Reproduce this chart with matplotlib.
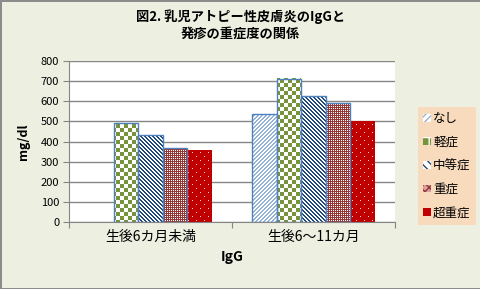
import numpy as np
import matplotlib
matplotlib.use('Agg')
import matplotlib.pyplot as plt
from matplotlib.patches import Patch

plt.rcParams['font.family'] = ['Noto Sans CJK JP', 'DejaVu Sans']

# data
categories = ['生後6カ月未満', '生後6〜11カ月']
severity = ['なし', '軽症', '中等症', '重症', '超重症']
nashi = [0, 535]
keisho = [490, 710]
chuto = [430, 625]
jusho = [370, 590]
chojusho = [360, 500]
series = [nashi, keisho, chuto, jusho, chojusho]

colors = ['#95B3D7', '#77933C', '#1F497D', '#953735', '#C00000']
kinds = ['up', 'check', 'down', 'fine', 'dots']

W, H = 481, 289
fig = plt.figure(figsize=(W / 100, H / 100), dpi=100, facecolor='#EDEFE1',
                 edgecolor='#8C8C8C', linewidth=2)
ax = fig.add_axes([69 / W, 1 - 222 / H, 326 / W, 161 / H])
ax.set_facecolor('white')
ax.set_xlim(-0.5, 1.5)
ax.set_ylim(0, 800)


def tile(kind, color, rows, cols):
    # pixel pattern aligned to the figure pixel grid
    i, j = np.meshgrid(rows, cols, indexing='ij')
    if kind == 'up':
        on = (i + j) % 4 < 2
    elif kind == 'down':
        on = (j - i) % 4 < 2
    elif kind == 'check':
        on = ((i // 4) + (j // 4)) % 2 == 0
    elif kind == 'fine':
        on = ((i + j) % 2 == 0) | (i % 2 == 1)
    else:
        off = ((i % 4) == 0) & (((j + 4 * ((i // 4) % 2)) % 8) == 0)
        on = ~off
    c = np.array(matplotlib.colors.to_rgb(color))
    img = np.ones(on.shape + (3,))
    img[on] = c
    if kind == 'dots':
        img[~on] = [1.0, 0.85, 0.85]
    return img


bw = 0.151
x = np.arange(len(categories))
inv = ax.transData.inverted()
for k, vals in enumerate(series):
    pos = x + (k - 2) * bw
    ec = 'none' if k == 4 else '#4F81BD'
    bars = ax.bar(pos, vals, bw, facecolor='none', edgecolor=ec, linewidth=1, zorder=3)
    for b in bars:
        if b.get_height() <= 0:
            b.set_visible(False)
            continue
        x0, y0 = b.get_x(), b.get_y()
        x1, y1 = x0 + b.get_width(), y0 + b.get_height()
        p0 = np.round(ax.transData.transform((x0, y0)))
        p1 = np.round(ax.transData.transform((x1, y1)))
        # snap the pattern image to whole pixels
        e0 = inv.transform(p0)
        e1 = inv.transform(p1)
        rows = np.arange(int(H - p1[1]), int(H - p0[1]))
        cols = np.arange(int(p0[0]), int(p1[0]))
        img = tile(kinds[k], colors[k], rows, cols)
        ax.imshow(img, extent=(e0[0], e1[0], e0[1], e1[1]), origin='upper', aspect='auto',
                  interpolation='nearest', zorder=2)

ax.set_xlim(-0.5, 1.5)
ax.set_ylim(0, 800)

ax.set_yticks(np.arange(0, 801, 100))
ax.yaxis.grid(True, color='#868686', linewidth=1)
ax.set_axisbelow(True)
ax.tick_params(axis='y', length=4, color='#868686', labelsize=8, pad=3)
ax.set_xticks([-0.5, 0.5, 1.5])
ax.set_xticklabels([])
ax.set_xticks(x, minor=True)
ax.set_xticklabels(categories, minor=True, fontsize=10)
ax.tick_params(axis='x', which='major', length=4, color='#868686')
ax.tick_params(axis='x', which='minor', length=0, pad=6)
for s in ['top', 'right']:
    ax.spines[s].set_visible(False)
for s in ['left', 'bottom']:
    ax.spines[s].set_color('#868686')

ax.set_ylabel('mg/dl', fontsize=9, fontweight='bold', labelpad=8)
ax.set_xlabel('IgG', fontsize=10, fontweight='bold', labelpad=4)

fig.text(0.5, 1 - 17 / H, '図2. 乳児アトピー性皮膚炎のIgGと', ha='center', va='center',
         fontsize=9.5, fontweight='bold')
fig.text(0.5, 1 - 34 / H, '発疹の重症度の関係', ha='center', va='center',
         fontsize=9.5, fontweight='bold')

# legend
hatches = ['/////', '++', '\\\\\\\\', 'xxxx', '..']
faces = ['white', '#77933C', 'white', '#D9A0A0', '#C00000']
hcols = ['#95B3D7', 'white', '#1F497D', '#953735', '#C00000']
handles = [Patch(facecolor=faces[k], edgecolor=hcols[k], hatch=hatches[k], linewidth=0)
           for k in range(5)]
leg = fig.legend(handles, severity, loc='upper left',
                 bbox_to_anchor=(418 / W, 1 - 107 / H), borderaxespad=0,
                 fontsize=9, handlelength=0.6, handleheight=0.6, handletextpad=0.2,
                 labelspacing=0.85, borderpad=0.4, frameon=True, fancybox=False)
leg.get_frame().set_facecolor('#FCD5B5')
leg.get_frame().set_edgecolor('none')

fig.savefig('out.png', dpi=100)
